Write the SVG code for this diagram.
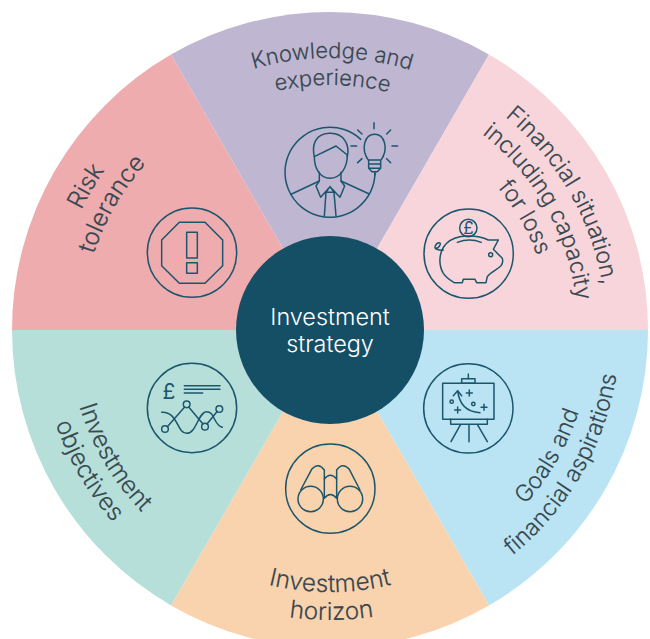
<svg xmlns="http://www.w3.org/2000/svg" width="650" height="639" viewBox="0 0 650 639">
<style>
.lbl{font-family:"Inter","Liberation Sans",sans-serif;font-weight:300;font-size:23.2px;fill:#37474f;text-anchor:middle;stroke:#37474f;stroke-width:.15}
.sm{font-size:22px}
.inv{font-size:24.4px}
.hub{font-family:"Inter","Liberation Sans",sans-serif;font-weight:300;font-size:23.4px;fill:#fff;text-anchor:middle}
.ic{fill:none;stroke:#1b566d;stroke-width:4.5;stroke-linecap:round;stroke-linejoin:round}
.gbp{font-family:"Inter","Liberation Sans",sans-serif;fill:#1b566d;text-anchor:middle}
</style>
<defs>
<path id="c272" d="M58,330A272 272 0 0 1 602,330"/>
<path id="c245" d="M85,330A245 245 0 0 1 575,330"/>
<path id="c276" d="M54,330A276 276 0 0 1 606,330"/>
<path id="c248" d="M82,330A248 248 0 0 1 578,330"/>
<path id="c220" d="M110,330A220 220 0 0 1 550,330"/>
<path id="b262" d="M68,330A262 262 0 0 0 592,330"/>
<path id="b290" d="M40,330A290 290 0 0 0 620,330"/>
</defs>
<rect width="650" height="639" fill="#fff"/>
<g id="wheel">
<path id="s-risk" d="M330,330L12,330A318 318 0 0 1 171,54.6Z" fill="#eeacaf"/>
<path id="s-know" d="M330,330L171,54.6A318 318 0 0 1 489,54.6Z" fill="#bfb6d2"/>
<path id="s-fin" d="M330,330L489,54.6A318 318 0 0 1 648,330Z" fill="#f8d5da"/>
<path id="s-goals" d="M330,330L648,330A318 318 0 0 1 489,605.4Z" fill="#bae4f3"/>
<path id="s-hor" d="M330,330L489,605.4A318 318 0 0 1 171,605.4Z" fill="#f9d3ae"/>
<path id="s-obj" d="M330,330L171,605.4A318 318 0 0 1 12,330Z" fill="#b6dfda"/>
</g>
<g id="connectors"/>
<g id="node-knowledge">
<text class="lbl sm" transform="rotate(.45 330 330)"><textPath href="#c272" startOffset="50%">Knowledge and</textPath></text>
<text class="lbl sm" transform="rotate(.6 330 330)"><textPath href="#c245" startOffset="50%">experience</textPath></text>
<g class="ic" transform="translate(270,110) scale(.3333)">
<path d="M315,190A135 135 0 1 1 272,88"/>
<path d="M133,140C125,105 135,72 178,70C222,68 240,105 232,140"/>
<path d="M133,140L198,108L232,135C232,175 210,205 180,205C150,205 133,175 133,140Z"/>
<path d="M148,187V213L65,252M213,187V213L298,252"/>
<path d="M148,213L138,228L152,262L180,230L210,262L224,228L213,213M180,230L168,247L163,318M180,230L192,247L198,318M168,247H192"/>
<path d="M296,152C270,115 285,73 314,73C343,73 358,115 332,152V175L322,185H306L296,175ZM296,150H332M296,162H332M296,175H332M315,185V195"/>
<path d="M312,38V56M263,60L276,72M362,60L350,72M243,108H260M366,108H383M263,158L276,146M362,158L350,146"/>
</g>
</g>
<g id="node-financial">
<text class="lbl" transform="rotate(60 330 330)"><textPath href="#c276" startOffset="50%">Financial situation,</textPath></text>
<text class="lbl" transform="rotate(60.500 330 330)"><textPath href="#c248" startOffset="50%">including capacity</textPath></text>
<text class="lbl" transform="rotate(60 330 330)"><textPath href="#c220" startOffset="50%">for loss</textPath></text>
<g class="ic" transform="translate(410,200) scale(.3333)">
<circle cx="176" cy="161" r="134"/>
<circle cx="175" cy="84" r="26"/>
<path d="M133,248H157L160,238H195L200,248H228L232,230C248,208 285,205 277,175L250,148L265,120L235,120C205,105 140,100 110,130C85,155 85,195 100,220C110,235 120,240 133,248Z"/>
<path d="M142,127Q178,113 214,127"/>
<circle cx="242" cy="164" r="6"/>
<path d="M100,150C90,152 72,148 75,140C80,125 95,125 90,135C87,142 82,145 78,145"/>
</g>
<text class="gbp" x="468.500" y="234" font-size="17">£</text>
</g>
<g id="node-goals">
<text class="lbl" transform="rotate(-60 330 330)"><textPath href="#b262" startOffset="50%">Goals and</textPath></text>
<text class="lbl" transform="rotate(-60 330 330)"><textPath href="#b290" startOffset="50%">financial aspirations</textPath></text>
<g class="ic" transform="translate(410,350) scale(.3333)">
<circle cx="175" cy="175" r="134"/>
<rect x="98" y="100" width="154" height="108"/>
<rect x="155" y="86" width="40" height="14"/>
<path d="M175,72V86M122,208V223H232V208M152,223L123,275M177,223V275M202,223L232,275"/>
<path d="M210,188Q150,185 143,122M130,137L143,122L155,137"/>
<path d="M178,120V138M169,129H187M143,171V189M134,180H152M222,163V181M213,172H231"/>
<circle cx="125" cy="155" r="5"/><circle cx="190" cy="162" r="5"/>
</g>
</g>
<g id="node-horizon">
<text class="lbl inv"><textPath href="#b262" startOffset="50%">Investment</textPath></text>
<text class="lbl inv" transform="rotate(-.3 330 330)"><textPath href="#b290" startOffset="50%">horizon</textPath></text>
<g class="ic" transform="translate(270,430) scale(.3333)">
<circle cx="181" cy="176" r="134"/>
<circle cx="122" cy="207" r="38"/><circle cx="240" cy="207" r="38"/>
<path d="M92,180L125,118Q145,95 163,120V205M200,205V120Q218,95 238,118L270,180"/>
<path d="M163,147Q181,125 200,147M163,205Q181,182 200,205"/>
</g>
</g>
<g id="node-objectives">
<text class="lbl inv" transform="rotate(59.500 330 330)"><textPath href="#b262" startOffset="50%">Investment</textPath></text>
<text class="lbl inv" transform="rotate(59.800 330 330)"><textPath href="#b290" startOffset="50%">objectives</textPath></text>
<g class="ic" transform="translate(135,350) scale(.3333)">
<circle cx="171" cy="174" r="134"/>
<path d="M148,107H255M148,118H255M148,129H203"/>
<circle cx="90" cy="237" r="10"/><circle cx="155" cy="163" r="10"/><circle cx="210" cy="230" r="10"/><circle cx="253" cy="177" r="10"/>
<path d="M97,230L149,171M161,171L204,222M216,222L247,184"/>
<path d="M80,187C130,185 125,250 155,250C185,250 190,185 215,185C240,185 235,225 262,232"/>
</g>
<text class="gbp" x="169" y="399" font-size="21">£</text>
</g>
<g id="node-risk">
<text class="lbl inv" transform="rotate(-59.500 330 330)"><textPath href="#c276" startOffset="50%">Risk</textPath></text>
<text class="lbl inv" transform="rotate(-60 330 330)"><textPath href="#c248" startOffset="50%">tolerance</textPath></text>
<g class="ic" transform="translate(135,195) scale(.3333)">
<circle cx="171" cy="173" r="134"/>
<path d="M133,82H210L263,135V212L210,265H133L80,212V135Z"/>
<rect x="155" y="112" width="32" height="77"/>
<rect x="155" y="203" width="32" height="32"/>
</g>
</g>
<g id="node-hub">
<circle cx="330" cy="330" r="94" fill="#154f66"/>
<text class="hub" x="330" y="325">Investment</text>
<text class="hub" x="330" y="352">strategy</text>
</g>
</svg>
